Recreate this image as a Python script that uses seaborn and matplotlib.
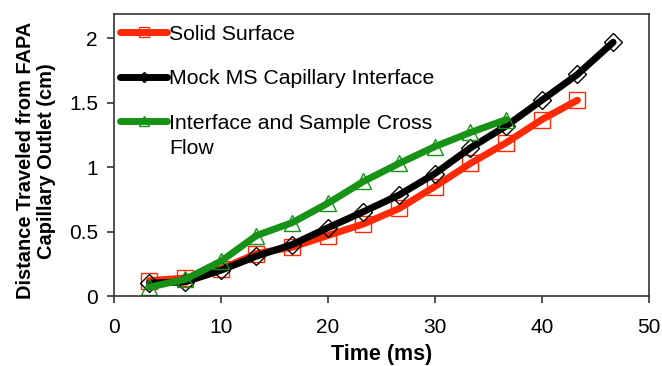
import numpy as np
import pandas as pd
import matplotlib
matplotlib.use("Agg")
import matplotlib.pyplot as plt
import seaborn as sns

# frame times (ms), 30 fps
time_solid = [3.33, 6.67, 10, 13.33, 16.67, 20, 23.33, 26.67, 30, 33.33, 36.67, 40, 43.33]
time_mock = [3.33, 6.67, 10, 13.33, 16.67, 20, 23.33, 26.67, 30, 33.33, 36.67, 40, 43.33, 46.67]
time_cross = [3.33, 6.67, 10, 13.33, 16.67, 20, 23.33, 26.67, 30, 33.33, 36.67]

dist_solid = [0.12, 0.14, 0.21, 0.33, 0.38, 0.47, 0.56, 0.68, 0.85, 1.03, 1.19, 1.37, 1.52]
dist_mock = [0.10, 0.11, 0.20, 0.31, 0.40, 0.53, 0.655, 0.785, 0.95, 1.15, 1.32, 1.52, 1.72, 1.97]
dist_cross = [0.07, 0.13, 0.27, 0.47, 0.57, 0.72, 0.89, 1.03, 1.16, 1.27, 1.37]

labels = ["Solid Surface", "Mock MS Capillary Interface", "Interface and Sample Cross"]
label_wrap = "Flow"  # second line of the third legend entry
x_ticks = [0, 10, 20, 30, 40, 50]
y_ticks = [0, 0.5, 1, 1.5, 2]
y_ticklabels = ["0", "0.5", "1", "1.5", "2"]

sns.set_style("ticks")
plt.rcParams['font.family'] = ['Liberation Sans', 'DejaVu Sans']
plt.rcParams['text.color'] = 'black'
plt.rcParams['axes.labelcolor'] = 'black'
plt.rcParams['xtick.labelcolor'] = 'black'
plt.rcParams['ytick.labelcolor'] = 'black'

fig = plt.figure(figsize=(6.62, 3.66), dpi=100)
ax = fig.add_axes([0.172, 0.191, 0.808, 0.771])

series = [
    (time_solid, dist_solid, labels[0], "#FF2A05", "s", 12),
    (time_mock, dist_mock, labels[1], "black", "D", 9),
    (time_cross, dist_cross, labels[2], "#169216", "^", 11),
]
for t, d, lab, col, mk, ms in series:
    df = pd.DataFrame({"t": t, "d": d})
    sns.lineplot(data=df, x="t", y="d", ax=ax, color=col, linewidth=5,
                 marker=mk, markersize=ms, markerfacecolor="none",
                 markeredgecolor=col, markeredgewidth=1.0, label=lab,
                 solid_capstyle="round")

ax.set_xlim(0, 50)
ax.set_ylim(0, 2.19)
ax.set_xticks(x_ticks)
ax.set_yticks(y_ticks)
ax.set_yticklabels(y_ticklabels)
ax.tick_params(labelsize=15, length=5, width=1.2, color="#333333")
ax.tick_params(axis="x", pad=10.5)
ax.tick_params(axis="y", pad=6.5)
for s in ax.spines.values():
    s.set_color("#333333")
    s.set_linewidth(1.2)

ax.set_xlabel("Time (ms)", fontsize=15.5, fontweight="bold", labelpad=5)
ax.set_ylabel("Distance Traveled from FAPA\nCapillary Outlet (cm)", fontsize=14.4,
              fontweight="bold", labelpad=9, y=0.48, linespacing=1.15)

leg = ax.legend(loc="upper left", bbox_to_anchor=(0, 0.985), frameon=False,
                fontsize=15.3, handlelength=2.2, handletextpad=0.1,
                labelspacing=1.2, borderaxespad=0, borderpad=0.3,
                markerscale=0.6)

# wrapped second line of the last legend label, placed under its first line
fig.canvas.draw()
bb = leg.get_texts()[2].get_window_extent()
fig.text(bb.x0, bb.y0 - 25, label_wrap, transform=None, fontsize=15.3,
         ha="left", va="bottom")

fig.savefig("out.png", dpi=100)
